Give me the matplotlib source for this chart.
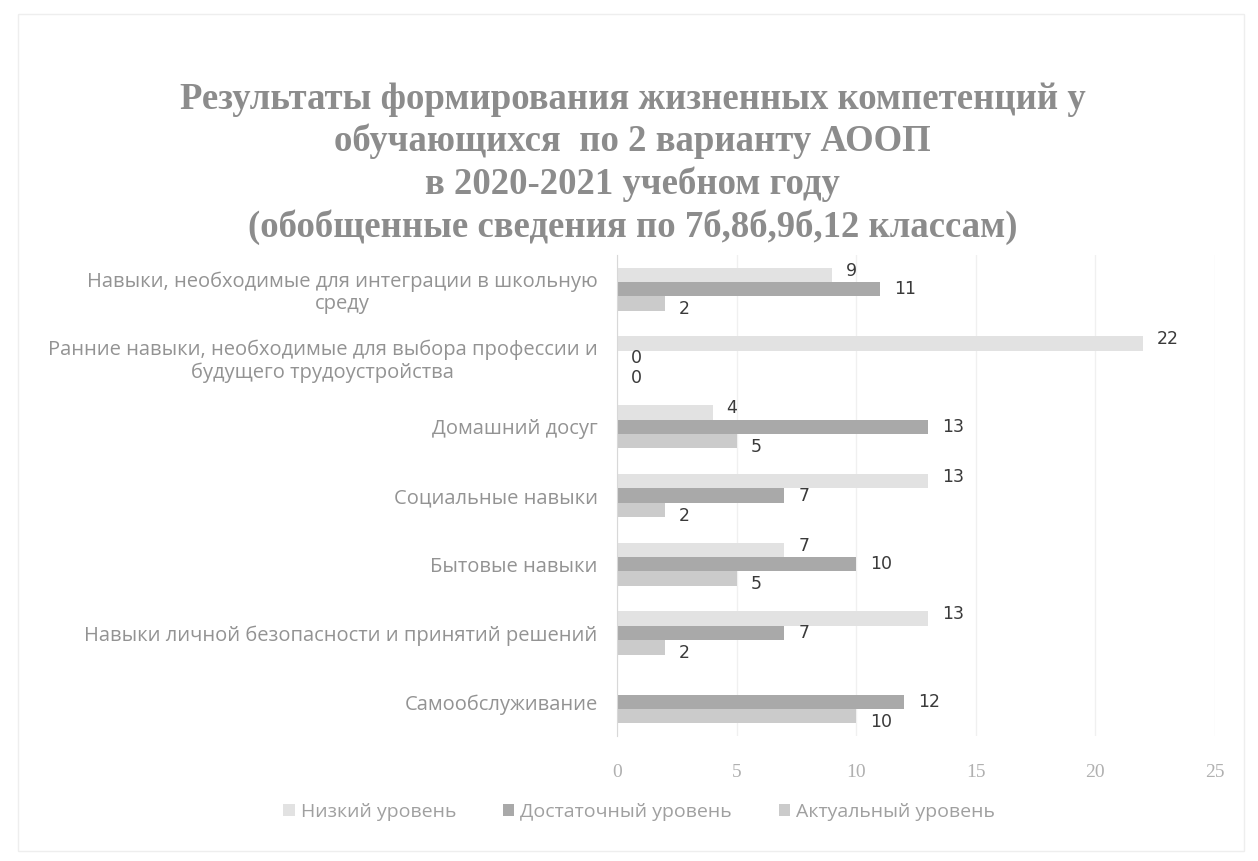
import numpy as np
import matplotlib.pyplot as plt
from matplotlib.patches import Rectangle

# categories from top to bottom
categories = [
    "Навыки, необходимые для интеграции в школьную\nсреду",
    "Ранние навыки, необходимые для выбора профессии и\nбудущего трудоустройства",
    "Домашний досуг",
    "Социальные навыки",
    "Бытовые навыки",
    "Навыки личной безопасности и принятий решений",
    "Самообслуживание",
]
series_names = ["Низкий уровень", "Достаточный уровень", "Актуальный уровень"]
low = [9, 22, 4, 13, 7, 13, np.nan]
enough = [11, 0, 13, 7, 10, 7, 12]
actual = [2, 0, 5, 2, 5, 2, 10]
xticks = [0, 5, 10, 15, 20, 25]

colors = ["#e2e2e2", "#a9a9a9", "#cbcbcb"]
title = ("Результаты формирования жизненных компетенций у\n"
         "обучающихся  по 2 варианту АООП\n"
         "в 2020-2021 учебном году\n"
         "(обобщенные сведения по 7б,8б,9б,12 классам)")

fig = plt.figure(figsize=(12.58, 8.61), dpi=100)
ax = fig.add_axes([0.4905, 0.145, 0.4753, 0.559])

y = np.arange(len(categories))
h = 0.21
for k, (vals, col) in enumerate(zip([low, enough, actual], colors)):
    pos = y + (k - 1) * h
    ax.barh(pos, vals, height=h, color=col, label=series_names[k])
    dy = [3, 0, -4][k]
    for p, v in zip(pos, vals):
        if np.isnan(v):
            continue
        ax.annotate(f"{v:g}", (v, p), xytext=(10, dy), textcoords="offset points",
                    ha="left", va="center", fontsize=12.5, color="#3a3a3a",
                    family="DejaVu Sans")

ax.set_xlim(0, 25)
ax.set_ylim(len(categories) - 0.5, -0.5)
ax.set_xticks(xticks)
ax.set_yticks(y)
ax.set_yticklabels(categories, fontsize=14.5, color="#939393", family="Open Sans",
                   ha="right", multialignment="center", linespacing=1.15)
ax.tick_params(axis="y", length=0, pad=14)
ax.tick_params(axis="x", length=0, pad=20, labelsize=14, labelcolor="#b0b0b0")
for lab in ax.get_xticklabels():
    lab.set_family("Liberation Serif")
ax.grid(axis="x", color="#f0f0f0", linewidth=1)
ax.set_axisbelow(True)
for s in ["top", "right", "bottom"]:
    ax.spines[s].set_visible(False)
ax.spines["left"].set_color("#d8d8d8")

fig.text(0.503, 0.905, title, ha="center", va="top", fontsize=26.5,
         family="Liberation Serif", fontweight="bold", color="#8c8c8c",
         linespacing=1.26)

leg = fig.legend(loc="center", bbox_to_anchor=(0.508, 0.057), ncol=3, frameon=False,
                 handlelength=0.6, handleheight=0.6, columnspacing=2.4,
                 handletextpad=0.3, prop={"family": "Open Sans", "size": 14})
for t in leg.get_texts():
    t.set_color("#a0a0a0")

fig.patches.append(Rectangle((0.014, 0.012), 0.975, 0.972, transform=fig.transFigure,
                             fill=False, edgecolor="#eeeeee", linewidth=1))

fig.savefig("out.png", dpi=100, facecolor="white")
